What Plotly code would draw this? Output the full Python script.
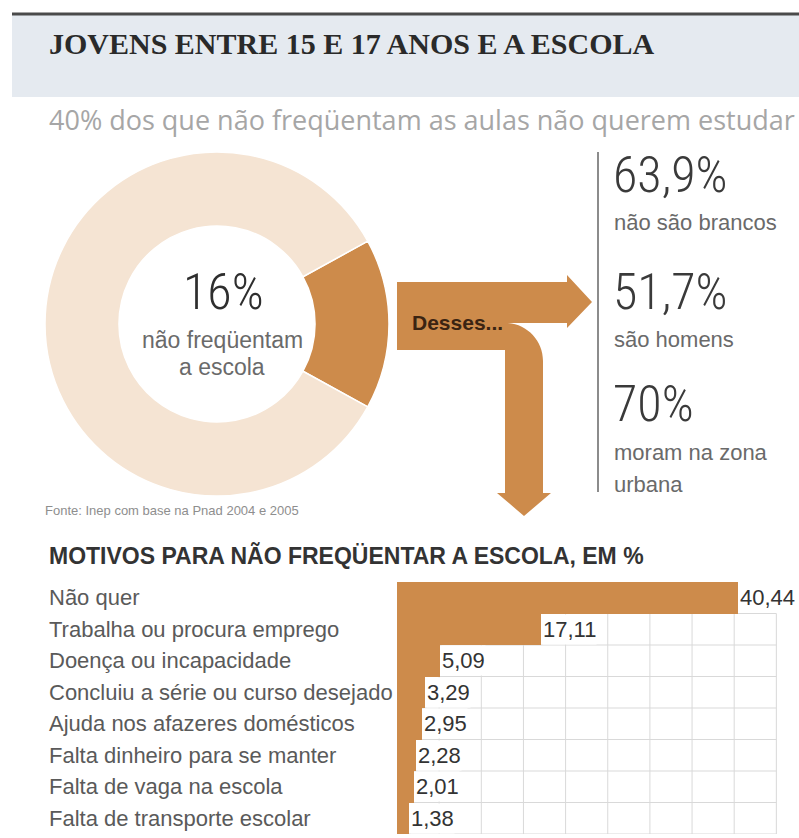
import plotly.graph_objects as go

# ---------------------------------------------------------------- data
title_text = "JOVENS ENTRE 15 E 17 ANOS E A ESCOLA"
subtitle_text = "40% dos que não freqüentam as aulas não querem estudar"
source_text = "Fonte: Inep com base na Pnad 2004 e 2005"
arrow_text = "Desses..."
bars_title = "MOTIVOS PARA NÃO FREQÜENTAR A ESCOLA, EM %"

donut_labels = ["não freqüentam", "freqüentam"]
donut_values = [16, 84]
donut_caption = ["não freqüentam", "a escola"]

profile_values = ["63,9%", "51,7%", "70%"]
profile_captions = [["não são brancos"], ["são homens"], ["moram na zona", "urbana"]]

reasons = [
    "Não quer",
    "Trabalha ou procura emprego",
    "Doença ou incapacidade",
    "Concluiu a série ou curso desejado",
    "Ajuda nos afazeres domésticos",
    "Falta dinheiro para se manter",
    "Falta de vaga na escola",
    "Falta de transporte escolar",
]
reason_values = [40.44, 17.11, 5.09, 3.29, 2.95, 2.28, 2.01, 1.38]

# ---------------------------------------------------------------- style
W, H = 799, 838
BROWN = "#CD8B4B"
LIGHT = "#F5E4D3"
BAND = "#E5EAF0"
GRID = "#D9D9D9"
SANS = "Liberation Sans, Arial, sans-serif"
NARROW = "Liberation Sans Narrow, Roboto Condensed, DejaVu Sans Condensed, Liberation Sans, sans-serif"
SERIF = "Liberation Serif, Times New Roman, serif"


def px(x):
    return x / W


def py(y):
    return 1 - y / H


def fmt_br(v):
    return f"{v:.2f}".replace(".", ",")


fig = go.Figure()

# ---------------------------------------------------------------- donut
cx, cy, r = 217, 324, 172
share = donut_values[0] / sum(donut_values)
fig.add_trace(go.Pie(
    labels=donut_labels,
    values=donut_values,
    hole=0.57,
    sort=False,
    direction="clockwise",
    rotation=90 - 360 * share / 2,
    marker=dict(colors=[BROWN, LIGHT], line=dict(color="white", width=1.5)),
    textinfo="none",
    hoverinfo="label+percent",
    showlegend=False,
    domain=dict(x=[px(cx - r), px(cx + r)], y=[py(cy + r), py(cy - r)]),
))

# ---------------------------------------------------------------- bars
bar_x0, bar_top, row_h = 397, 582, 31.5
unit_px = 8.43
fig.add_trace(go.Bar(
    x=reason_values,
    y=reasons,
    orientation="h",
    marker=dict(color=BROWN, line=dict(width=0)),
    hoverinfo="x+y",
    showlegend=False,
    xaxis="x",
    yaxis="y",
))

n = len(reasons)
fig.update_layout(
    xaxis=dict(
        domain=[px(bar_x0), 1],
        range=[0, (W - bar_x0) / unit_px],
        visible=False,
        fixedrange=True,
    ),
    yaxis=dict(
        domain=[py(bar_top + n * row_h), py(bar_top)],
        range=[n - 0.5, -0.5],
        visible=False,
        fixedrange=True,
    ),
    bargap=0,
)

shapes = []
# header band and rule
shapes.append(dict(type="rect", xref="paper", yref="paper",
                   x0=px(12), x1=1, y0=py(97), y1=py(14),
                   fillcolor=BAND, line=dict(width=0), layer="below"))
shapes.append(dict(type="line", xref="paper", yref="paper",
                   x0=px(12), x1=1, y0=py(14), y1=py(14),
                   line=dict(color="#4A4A4A", width=3)))

# grid behind the bars (rows 2..n)
grid_max = 45
for gx in range(5, grid_max + 1, 5):
    shapes.append(dict(type="line", xref="x", yref="y", x0=gx, x1=gx,
                       y0=0.5, y1=n - 0.5, line=dict(color=GRID, width=1),
                       layer="below"))
for k in range(n):
    gy = k + 0.5
    shapes.append(dict(type="line", xref="x", yref="y", x0=0, x1=grid_max,
                       y0=gy, y1=gy, line=dict(color=GRID, width=1),
                       layer="below"))

# divider of the profile column
shapes.append(dict(type="line", xref="paper", yref="paper",
                   x0=px(598), x1=px(598), y0=py(152), y1=py(492),
                   line=dict(color="#8C8C8C", width=2)))

# bent arrow: horizontal branch to the profile, curved branch down to the bars
kappa = 0.5523
rc = 38
head = [
    ("M", (397, 282)),
    ("L", (567, 282)),
    ("L", (567, 275)),
    ("L", (592, 302)),
    ("L", (567, 328)),
    ("L", (567, 323)),
    ("L", (505, 323)),
]
path = " ".join(f"{c}{px(x):.5f},{py(y):.5f}" for c, (x, y) in head)
ax0, ay0 = 505, 361 - rc          # start of the quarter bend
ax1, ay1 = 505 + rc, 361          # end of the bend
c1 = (ax0 + kappa * rc, ay0)
c2 = (ax1, ay1 - kappa * rc)
path += (f" C{px(c1[0]):.5f},{py(c1[1]):.5f} {px(c2[0]):.5f},{py(c2[1]):.5f}"
         f" {px(ax1):.5f},{py(ay1):.5f}")
tail = [
    ("L", (543, 493)),
    ("L", (551, 493)),
    ("L", (524, 516)),
    ("L", (497, 493)),
    ("L", (505, 493)),
    ("L", (505, 350)),
    ("L", (397, 350)),
]
path += " " + " ".join(f"{c}{px(x):.5f},{py(y):.5f}" for c, (x, y) in tail) + " Z"
shapes.append(dict(type="path", xref="paper", yref="paper", path=path,
                   fillcolor=BROWN, line=dict(width=0)))

# ---------------------------------------------------------------- texts
ann = []


def text(x, y, s, size, color, family=SANS, xanchor="left", weight="normal"):
    ann.append(dict(x=px(x), y=py(y), xref="paper", yref="paper", text=s,
                    showarrow=False, xanchor=xanchor, yanchor="middle",
                    font=dict(size=size, color=color, family=family, weight=weight)))


text(47, 44, f"<b>{title_text}</b>", 30, "#2A2A2A", family=SERIF)
text(47, 120, subtitle_text, 27, "#A6A6A6", family="Open Sans, sans-serif")

# centre of the donut
text(cx + 6, 292, f"{donut_values[0]}%", 50, "#2E2E2E", family=NARROW,
     xanchor="center", weight=300)
for i, line in enumerate(donut_caption):
    text(cx + 5, 340 + 27 * i, line, 23, "#6A6A6A", xanchor="center")
text(43, 511, source_text, 13, "#8E8E8E")

text(410, 322, f"<b>{arrow_text}</b>", 21, "#3B2412")

# profile column
num_y = [175, 292, 404]
cap_y = [222, 339, 452]
for v, caps, ny, cyy in zip(profile_values, profile_captions, num_y, cap_y):
    text(611, ny, v, 50, "#3A3A3A", family=NARROW, weight=300)
    for j, line in enumerate(caps):
        text(612, cyy + 32 * j, line, 22, "#6A6A6A")

text(47, 555, f"<b>{bars_title}</b>", 23, "#333333")

for i, (lab, v) in enumerate(zip(reasons, reason_values)):
    ann.append(dict(x=px(47), y=i, xref="paper", yref="y", text=lab,
                    showarrow=False, xanchor="left", yanchor="middle",
                    font=dict(size=22, color="#5A5A5A", family=SANS)))
    ann.append(dict(x=v, y=i, xref="x", yref="y", text=fmt_br(v),
                    showarrow=False, xanchor="left", yanchor="middle",
                    xshift=1, bgcolor="white", height=29, borderpad=0,
                    font=dict(size=22, color="#333333", family=SANS)))

fig.update_layout(
    width=W, height=H,
    margin=dict(l=0, r=0, t=0, b=0),
    paper_bgcolor="white",
    plot_bgcolor="white",
    shapes=shapes,
    annotations=ann,
    showlegend=False,
)

fig.write_html("out.html", config={"displayModeBar": False})
